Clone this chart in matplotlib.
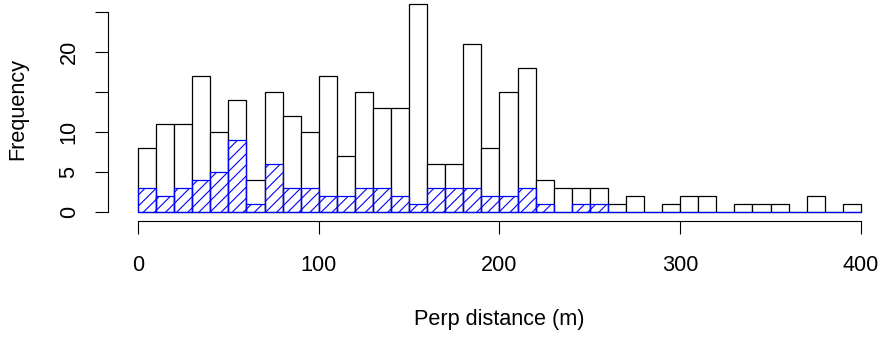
import numpy as np
import matplotlib
matplotlib.use("Agg")
import matplotlib.pyplot as plt

# histogram counts, 10 m bins from 0 to 400
bin_edges = np.arange(0, 410, 10)
all_counts = [8, 11, 11, 17, 10, 14, 4, 15, 12, 10,
              17, 7, 15, 13, 13, 26, 6, 6, 21, 8,
              15, 18, 4, 3, 3, 3, 1, 2, 0, 1,
              2, 2, 0, 1, 1, 1, 0, 2, 0, 1]
sub_counts = [3, 2, 3, 4, 5, 9, 1, 6, 3, 3,
              2, 2, 3, 3, 2, 1, 3, 3, 3, 2,
              2, 3, 1, 0, 1, 1, 0, 0, 0, 0,
              0, 0, 0, 0, 0, 0, 0, 0, 0, 0]
x_ticks = [0, 100, 200, 300, 400]
y_ticks = [0, 5, 10, 15, 20, 25]
y_labels = ["0", "5", "10", "", "20", ""]

plt.rcParams['font.family'] = ['Liberation Sans', 'DejaVu Sans']
plt.rcParams['hatch.linewidth'] = 0.8

W, H = 881, 338
fs = 15.6
fig = plt.figure(figsize=(W / 100, H / 100), dpi=100)
ax = fig.add_axes([108 / W, (H - 220.7) / H, (W - 108) / W, 220.7 / H])

left = bin_edges[:-1]
ax.bar(left, all_counts, width=10, align='edge', color='white',
       edgecolor='black', linewidth=0.9, clip_on=False)
ax.bar(left, sub_counts, width=10, align='edge', color='none',
       edgecolor='blue', hatch='///', linewidth=0.9, clip_on=False)

ax.set_xlim(-16.6, 411.1)
ax.set_ylim(-1.09, 26.5)

for s in ['top', 'right']:
    ax.spines[s].set_visible(False)
ax.spines['left'].set_bounds(0, 25)
ax.spines['bottom'].set_bounds(0, 400)
for s in ['left', 'bottom']:
    ax.spines[s].set_linewidth(0.8)

ax.set_xticks(x_ticks)
ax.set_xticklabels([str(t) for t in x_ticks])
ax.set_yticks(y_ticks)
ax.set_yticklabels(y_labels, rotation=90, va='center')
ax.tick_params(axis='both', direction='out', length=9.4, width=0.8,
               labelsize=fs)
ax.tick_params(axis='x', pad=15)
ax.tick_params(axis='y', pad=11)

fig.text(18 / W, 1 - 109 / H, 'Frequency', rotation=90, fontsize=fs,
         ha='center', va='center')
fig.text(499 / W, 1 - 320 / H, 'Perp distance (m)', fontsize=fs,
         ha='center', va='center')

fig.savefig('out.png', dpi=100)
